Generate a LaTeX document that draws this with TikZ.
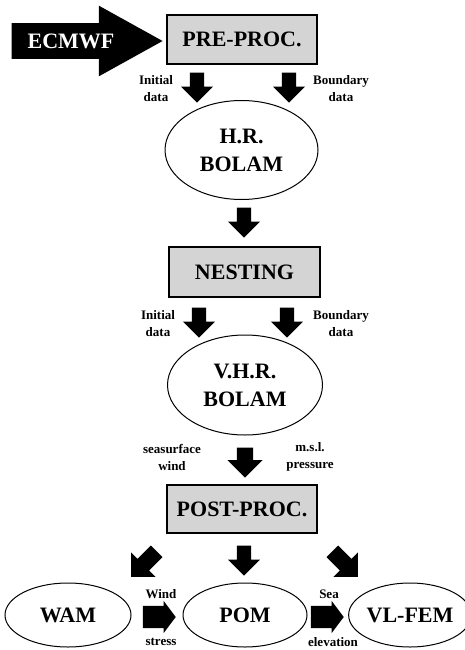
\documentclass[tikz,border=0pt]{standalone}
\usepackage{fontspec}
\setmainfont{Liberation Serif}
\usepackage{tikz}
\usetikzlibrary{shapes.geometric, shapes.arrows, positioning}
\newcommand{\bigfont}{\fontsize{22}{28}\selectfont\bfseries}
\newcommand{\lblfont}{\fontsize{13}{17}\selectfont\bfseries}
\tikzset{
    procbox/.style={draw, line width=1.4pt, fill=black!17, minimum width=150pt, minimum height=49pt, inner sep=0pt, font=\bigfont},
    model/.style={draw, ellipse, line width=1pt, inner sep=0pt, align=center, font=\bigfont},
    flow/.style={single arrow, fill=black, draw=none, inner sep=0pt, inner ysep=7pt, single arrow head extend=9pt, single arrow tip angle=90, minimum height=30pt, anchor=tip},
    sideflow/.style={flow, inner ysep=11pt, single arrow head extend=5pt, single arrow tip angle=106, minimum height=33pt},
    lbl/.style={align=center, font=\lblfont}
}

\begin{document}
\begin{tikzpicture}[x=1pt, y=-1pt]
    \useasboundingbox (0,0) rectangle (465,650);
    % input arrow + boxes
    \node[single arrow, fill=black, text=white, font=\bigfont, inner xsep=4pt, inner ysep=10.2pt, single arrow head extend=17.5pt, single arrow tip angle=58, minimum height=151pt, anchor=tip] (ecmwf) at (163,41) {ECMWF};
    \node[procbox] (pre) at (242,39.5) {PRE-PROC.};
    \node[model, minimum width=153pt, minimum height=99pt] (hr) at (241.5,150) {H.R.\\BOLAM};
    \node[procbox, minimum width=151pt, minimum height=50pt] (nest) at (244.5,272) {NESTING};
    \node[model, minimum width=155pt, minimum height=100pt] (vhr) at (245,385) {V.H.R.\\BOLAM};
    \node[procbox, minimum height=48pt] (post) at (242,509) {POST-PROC.};
    % ocean models
    \node[model, minimum width=126pt, minimum height=64pt] (wam) at (68,615) {WAM};
    \node[model, minimum width=124pt, minimum height=64pt] (pom) at (245,615) {POM};
    \node[model, minimum width=110pt, minimum height=64pt] (vlfem) at (410,615) {VL-FEM};
    % block arrows
    \node[flow, rotate=-90] (preini) at (197,103) {};
    \node[flow, rotate=-90] (prebnd) at (289,103) {};
    \node[flow, rotate=-90] (hrnest) at (244,238) {};
    \node[flow, rotate=-90] (nestini) at (199,338) {};
    \node[flow, rotate=-90] (nestbnd) at (287,338) {};
    \node[flow, rotate=-90, inner ysep=8pt, single arrow head extend=9.5pt] (vhrpost) at (245,478) {};
    \node[flow, rotate=-135, inner ysep=8pt, minimum height=36pt] (postwam) at (131,577) {};
    \node[flow, rotate=-90] (postpom) at (244,576) {};
    \node[flow, rotate=-45, inner ysep=8pt, minimum height=36pt] (postvl) at (358,577) {};
    \node[sideflow] (wampom) at (176,617) {};
    \node[sideflow] (pomvl) at (344,617) {};
    % labels
    \node[lbl] (ini1) at (156,89) {Initial\\data};
    \node[lbl] (bnd1) at (341,89) {Boundary\\data};
    \node[lbl] (ini2) at (158,324) {Initial\\data};
    \node[lbl] (bnd2) at (341,324) {Boundary\\data};
    \node[lbl] (ssw) at (172,457) {seasurface\\wind};
    \node[lbl] (msl) at (310,457) {m.s.l.\\pressure};
    \node[lbl] (wind) at (161,594) {Wind};
    \node[lbl] (stress) at (161,642) {stress};
    \node[lbl] (sea) at (329,594) {Sea};
    \node[lbl] (elev) at (333,642) {elevation};
\end{tikzpicture}
\end{document}
